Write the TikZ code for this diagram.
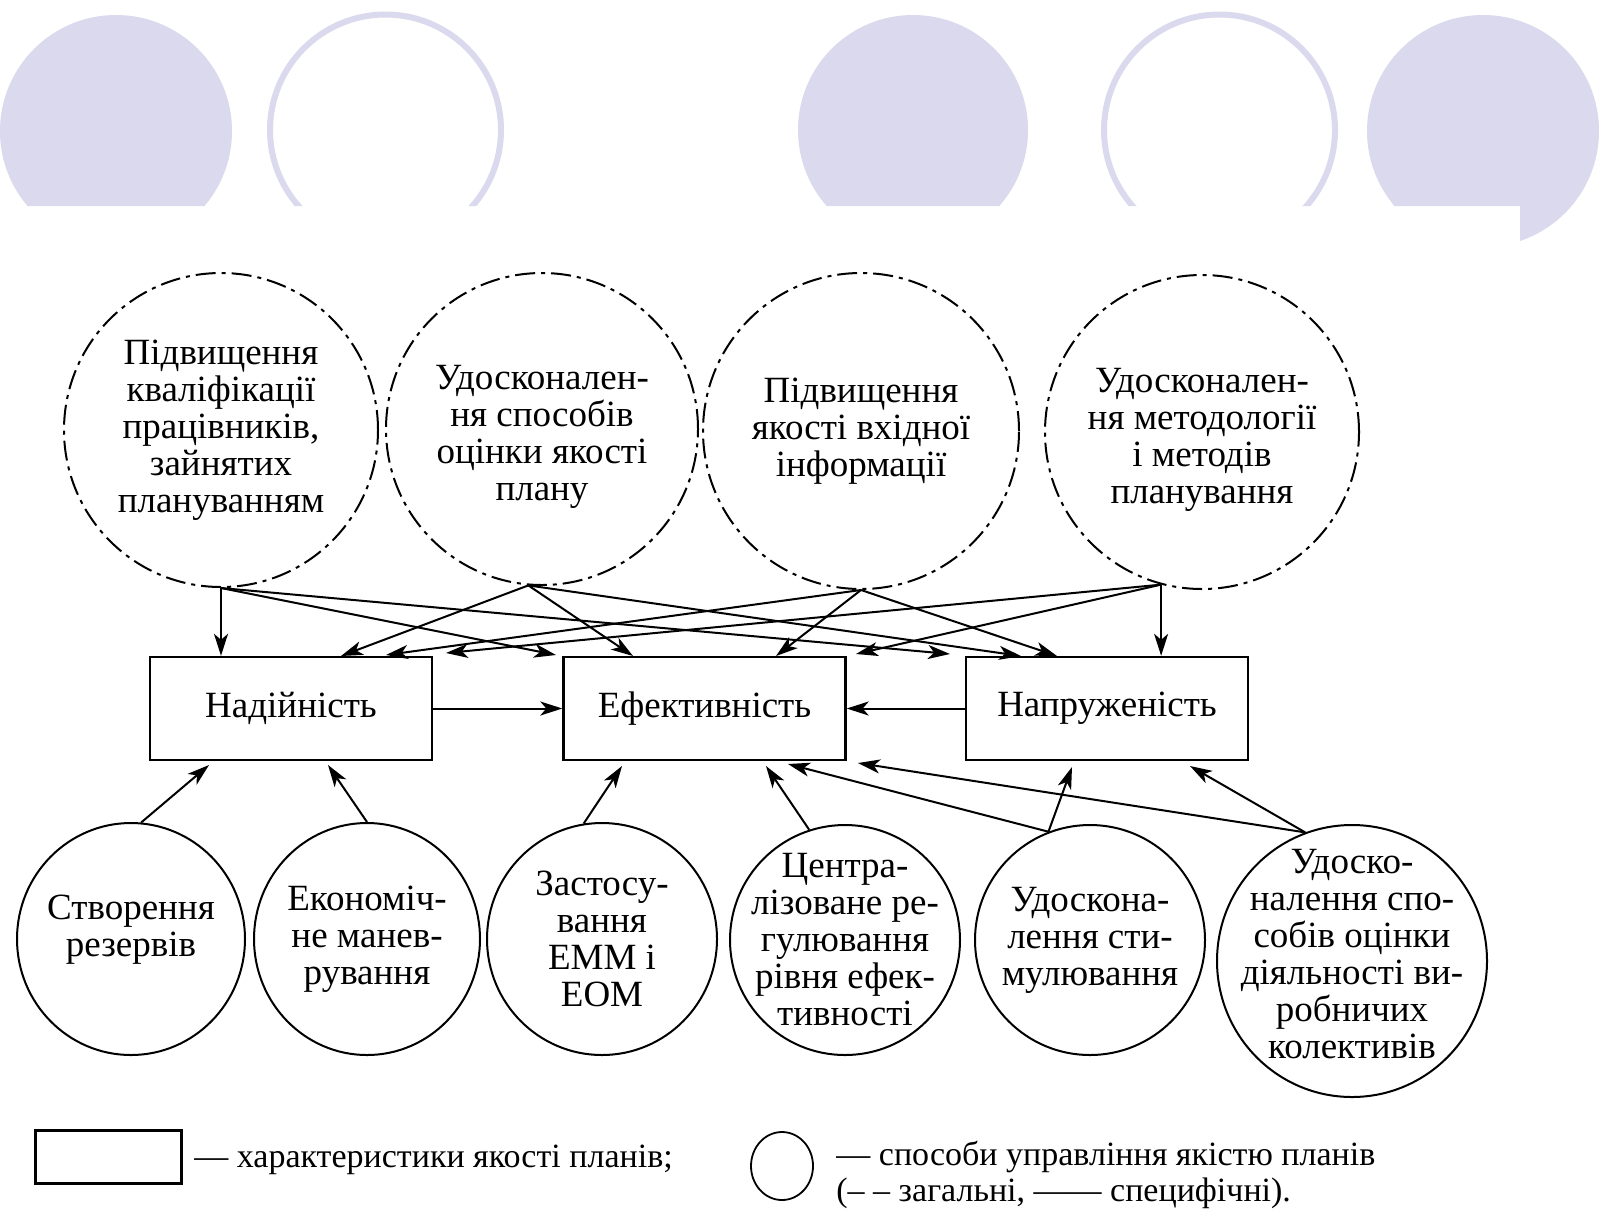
\documentclass[tikz,border=0pt]{standalone}
\usepackage{fontspec}
\setmainfont{Liberation Serif}
\usetikzlibrary{arrows.meta,shapes.geometric,calc}
\newcommand\dfont{\fontsize{18.5pt}{18.5pt}\selectfont}
\newcommand\lfont{\fontsize{17pt}{17pt}\selectfont}
\definecolor{lav}{RGB}{218,217,237}
\begin{document}
\begin{tikzpicture}[x=0.5pt,y=-0.5pt,
  txt/.style={align=center,font=\dfont,inner sep=0pt},
  ltxt/.style={font=\lfont,inner sep=0pt,anchor=base west},
  topc/.style={circle,draw,line width=1pt,dash pattern=on 10pt off 3pt on 2pt off 3pt,inner sep=0pt},
  botc/.style={ellipse,draw,line width=1pt,inner sep=0pt},
  qbox/.style={rectangle,draw,line width=1.2pt,minimum width=141pt,minimum height=51.5pt,inner sep=0pt,font=\dfont},
  arr/.style={-{Stealth[length=11pt,width=7pt,inset=3pt]},line width=1pt},
  deco/.style={lav,line width=3pt}]
\useasboundingbox (0,0) rectangle (1599,1211);
\fill[white] (0,0) rectangle (1599,1211);
% decorative circles
\begin{scope}
\clip (0,0) -- (1599,0) -- (1599,300) -- (1520,300) -- (1520,206) -- (0,206) -- cycle;
\fill[lav] (116,131) circle[radius=116];
\draw[deco] (385.5,130) circle[radius=115.5];
\fill[lav] (913,130) circle[radius=115];
\draw[deco] (1219.5,130) circle[radius=115.5];
\fill[lav] (1483,131) circle[radius=116];
\end{scope}
% top circles (general methods)
\node[topc,minimum size=157pt,label={[txt]center:{Підвищення\\кваліфікації\\працівників,\\зайнятих\\плануванням}}] (c1) at (221,430) {};
\node[topc,minimum size=156pt,label={[txt,yshift=-4pt]center:{Удосконален-\\ня способів\\оцінки якості\\плану}}] (c2) at (542,429) {};
\node[topc,minimum size=158pt,label={[txt]center:{Підвищення\\якості вхідної\\інформації}}] (c3) at (861,431) {};
\node[topc,minimum size=157pt,label={[txt,yshift=-4pt]center:{Удосконален-\\ня методології\\і методів\\планування}}] (c4) at (1202,432) {};
% boxes
\node[qbox] (nad) at (291,708.5) {Надійність};
\node[qbox] (ef) at (704.5,708.5) {Ефективність};
\node[qbox] (nap) at (1107,708.5) {Напруженість};
% bottom circles (specific methods)
\node[botc,minimum width=114pt,minimum height=116pt,label={[txt,yshift=4.5pt]center:{Створення\\резервів}}] (b1) at (131,939) {};
\node[botc,minimum width=113pt,minimum height=116pt,label={[txt]center:{Економіч-\\не манев-\\рування}}] (b2) at (367,939) {};
\node[botc,minimum width=115pt,minimum height=116pt,label={[txt]center:{Застосу-\\вання\\ЕММ і\\ЕОМ}}] (b3) at (602,939) {};
\node[botc,minimum width=115pt,minimum height=115pt,label={[txt]center:{Центра-\\лізоване ре-\\гулювання\\рівня ефек-\\тивності}}] (b4) at (845,940) {};
\node[botc,minimum width=115pt,minimum height=115pt,label={[txt]center:{Удоскона-\\лення сти-\\мулювання}}] (b5) at (1090,940) {};
\node[botc,minimum width=135pt,minimum height=136pt,label={[txt,yshift=3.5pt]center:{Удоско-\\налення спо-\\собів оцінки\\діяльності ви-\\робничих\\колективів}}] (b6) at (1352,961) {};
% arrow end points on top of boxes
\coordinate (tA1) at (556,655);
\coordinate (tA2) at (950,654);
\coordinate (tB1) at (341,656);
\coordinate (tB2) at (633,656);
\coordinate (tB3) at (1021,656);
\coordinate (tC1) at (386,655);
\coordinate (tC2) at (776,656);
\coordinate (tC3) at (1057,656);
\coordinate (tD1) at (446,653);
\coordinate (tD2) at (856,654);
% arrow end points below boxes
\coordinate (u1) at (209,765);
\coordinate (u2) at (328,765);
\coordinate (u3) at (622,766);
\coordinate (u4) at (766,766);
\coordinate (u5) at (788,764);
\coordinate (u6) at (1072,767);
\coordinate (u7) at (858,763);
\coordinate (u8) at (1190,766);
% top arrows
\draw[arr] (c1.south) -- (c1.south |- nad.north);
\draw[arr] (c1.south) -- (tA1);
\draw[arr] (c1.south) -- (tA2);
\draw[arr] (c2.265) -- (tB1);
\draw[arr] (c2.265) -- (tB2);
\draw[arr] (c2.265) -- (tB3);
\draw[arr] (c3.south) -- (tC1);
\draw[arr] (c3.south) -- (tC2);
\draw[arr] (c3.south) -- (tC3);
\draw[arr] (c4.255) -- (c4.255 |- nap.north);
\draw[arr] (c4.255) -- (tD1);
\draw[arr] (c4.255) -- (tD2);
% horizontal arrows
\draw[arr] (nad.east) -- (ef.west);
\draw[arr] (nap.west) -- (ef.east);
% bottom arrows
\draw[arr] (b1.85) -- (u1);
\draw[arr] (b2.90) -- (u2);
\draw[arr] (b3.99) -- (u3);
\draw[arr] (b4.108) -- (u4);
\draw[arr] (b5.111) -- (u5);
\draw[arr] (b5.111) -- (u6);
\draw[arr] (b6.110) -- (u7);
\draw[arr] (b6.110) -- (u8);
% legend
\node[draw,line width=1.2pt,minimum width=73pt,minimum height=26.5pt,inner sep=0pt] (lgbox) at (108.5,1157) {};
\node[ltxt] (lgt1) at (194,1167) {— характеристики якості планів;};
\node[ellipse,draw,line width=0.9pt,minimum width=31pt,minimum height=34pt,inner sep=0pt] (lgc) at (782,1166) {};
\node[ltxt] (lgt2) at (836,1165) {— способи управління якістю планів};
\node[ltxt] (lgt3) at (836,1201) {(– – загальні, —— специфічні).};
\end{tikzpicture}
\end{document}
